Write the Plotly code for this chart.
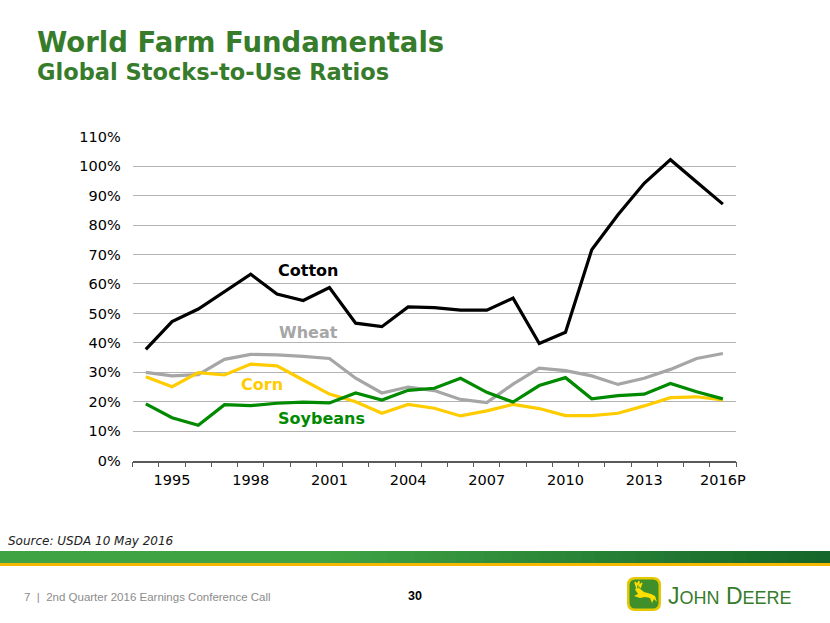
#!/usr/bin/env python3
"""World Farm Fundamentals - global stocks-to-use ratios (USDA, May 2016)"""
import plotly.graph_objects as go

# Marketing years, 1994 .. 2016P (labels every third year)
years = [str(y) for y in range(1994, 2016)] + ["2016P"]
tick_labels = ["1995", "1998", "2001", "2004", "2007", "2010", "2013", "2016P"]

# Stocks-to-use ratios (fraction)
cotton = [0.378, 0.472, 0.515, 0.573, 0.633, 0.566, 0.544, 0.588, 0.467, 0.455,
          0.522, 0.520, 0.511, 0.511, 0.552, 0.398, 0.436, 0.716, 0.835, 0.942,
          1.022, 0.946, 0.871]
wheat = [0.300, 0.288, 0.292, 0.344, 0.361, 0.359, 0.354, 0.347, 0.280, 0.230,
         0.250, 0.238, 0.208, 0.197, 0.260, 0.314, 0.306, 0.288, 0.259, 0.280,
         0.310, 0.347, 0.364]
corn = [0.285, 0.251, 0.299, 0.291, 0.328, 0.322, 0.274, 0.226, 0.200, 0.161,
        0.191, 0.178, 0.152, 0.169, 0.191, 0.177, 0.153, 0.153, 0.161, 0.186,
        0.214, 0.217, 0.206]
soybeans = [0.193, 0.146, 0.120, 0.190, 0.187, 0.195, 0.199, 0.196, 0.230, 0.206,
            0.239, 0.246, 0.280, 0.232, 0.199, 0.255, 0.282, 0.210, 0.221, 0.226,
            0.262, 0.234, 0.210]

GREEN_TITLE = "#367C2B"
DEERE_YELLOW = "#FFDE00"
FONT = "DejaVu Sans"
W, H = 830, 623

series = [
    ("Cotton", cotton, "#000000"),
    ("Wheat", wheat, "#A6A6A6"),
    ("Corn", corn, "#FFCC00"),
    ("Soybeans", soybeans, "#008A00"),
]
label_pos = {"Cotton": (308, 270), "Wheat": (308, 332),
             "Corn": (262, 384), "Soybeans": (321, 418)}


def px_note(x, y, text, size, color, family=FONT, xanchor="left"):
    """Annotation placed by pixel position (x, y from top-left)."""
    fig.add_annotation(x=x / W, y=1 - y / H, xref="paper", yref="paper",
                       xanchor=xanchor, yanchor="middle", text=text,
                       showarrow=False, font=dict(family=family, size=size, color=color))


def px_path(points, close=True):
    """SVG path in paper coords from pixel points; ('Q', cx, cy, x, y) for curves."""
    parts = []
    for i, p in enumerate(points):
        if p[0] == "Q":
            parts.append(f"Q {p[1]/W},{1-p[2]/H} {p[3]/W},{1-p[4]/H}")
        else:
            parts.append(f"{'M' if i == 0 else 'L'} {p[0]/W},{1-p[1]/H}")
    return " ".join(parts) + (" Z" if close else "")


def shield(x0, y0, x1, y1, r):
    return px_path([(x0 + r, y0), (x1 - r, y0), ("Q", x1, y0, x1, y0 + r),
                    (x1, y1 - r), ("Q", x1, y1, x1 - r, y1), (x0 + r, y1),
                    ("Q", x0, y1, x0, y1 - r), (x0, y0 + r), ("Q", x0, y0, x0 + r, y0)])


fig = go.Figure()
idx = list(range(len(years)))
for name, vals, color in series:
    fig.add_trace(go.Scatter(x=idx, y=vals, mode="lines", name=name,
                             line=dict(color=color, width=3.2),
                             hoverinfo="skip"))
    lx, ly = label_pos[name]
    px_note(lx, ly, f"<b>{name}</b>", 16, color, xanchor="center")

# Titles
px_note(35, 42, "<b>World Farm Fundamentals</b>", 27.5, GREEN_TITLE)
px_note(35, 72, "<b>Global Stocks-to-Use Ratios</b>", 22.5, GREEN_TITLE)

# Footer text
px_note(6, 541, "<i>Source: USDA 10 May 2016</i>", 12, "#222222")
px_note(22, 597, "7  |  2nd Quarter 2016 Earnings Conference Call", 11.5,
        "#8C8C8C", family="Liberation Sans")
px_note(415, 596, "<b>30</b>", 12.5, "#000000", family="Liberation Sans", xanchor="center")
px_note(666, 596, "J<span style='font-size:18px'>OHN</span> D<span style='font-size:18px'>EERE</span>",
        23, "#367C2B", family="Liberation Sans")

# Green band with gradient, then yellow strip
shapes = []
n_steps = 60
c0, c1 = (0x3F, 0xA3, 0x44), (0x15, 0x66, 0x2A)
for k in range(n_steps):
    t = k / (n_steps - 1)
    t = max(0.0, (t - 0.4) / 0.6)
    c = tuple(int(a + (b - a) * t) for a, b in zip(c0, c1))
    shapes.append(dict(type="rect", xref="paper", yref="paper",
                       x0=k / n_steps, x1=min(1.0, (k + 1) / n_steps + 0.002),
                       y0=1 - 563 / H, y1=1 - 551 / H,
                       fillcolor=f"rgb{c}", line=dict(width=0), layer="below"))
shapes.append(dict(type="rect", xref="paper", yref="paper", x0=0, x1=1,
                   y0=1 - 566 / H, y1=1 - 563 / H, fillcolor="#F5B800",
                   line=dict(width=0), layer="below"))

# John Deere logo: rounded shield with leaping deer
shapes.append(dict(type="path", xref="paper", yref="paper",
                   path=shield(627, 577, 661, 611, 8),
                   fillcolor="#E6C800", line=dict(width=0)))
shapes.append(dict(type="path", xref="paper", yref="paper",
                   path=shield(629.5, 579.5, 658.5, 608.5, 6),
                   fillcolor="#3F8F2A", line=dict(width=0)))
deer_body = [(635, 589), (639, 588), (644, 592), (651, 594), (655, 596),
             (657, 602), (654, 599), (652, 603), (650, 598), (645, 597),
             (640, 598), (634, 596), (638, 594), (636, 591)]
shapes.append(dict(type="path", xref="paper", yref="paper",
                   path=px_path(deer_body), fillcolor=DEERE_YELLOW,
                   line=dict(width=0)))
antlers = [(637, 589), (635, 582), (637, 585), (639, 581), (639, 586),
           (642, 583), (640, 588)]
shapes.append(dict(type="path", xref="paper", yref="paper",
                   path=px_path(antlers, close=False),
                   line=dict(color=DEERE_YELLOW, width=1.4)))

fig.update_layout(
    width=W, height=H,
    margin=dict(l=0, r=0, t=0, b=0, pad=0, autoexpand=False),
    paper_bgcolor="white", plot_bgcolor="white",
    showlegend=False,
    shapes=shapes,
    font=dict(family=FONT, size=14, color="#000000"),
    xaxis=dict(domain=[132.7 / W, 736 / W], range=[-0.5, 22.5],
               tickmode="array", tickvals=[1, 4, 7, 10, 13, 16, 19, 22],
               ticktext=tick_labels, ticks="", showgrid=False, zeroline=False,
               showline=True, linecolor="#595959", linewidth=1.5,
               minor=dict(tickmode="linear", tick0=-0.5, dtick=1, ticks="outside",
                          ticklen=5, tickcolor="#595959", tickwidth=1.3),
               tickfont=dict(size=14.5, family=FONT, color="#000000"),
               ticklabelstandoff=5,
               automargin=False, fixedrange=True),
    yaxis=dict(domain=[1 - 460.7 / H, 1 - 136.7 / H], range=[0, 1.1],
               tickmode="linear", tick0=0, dtick=0.1, tickformat=".0%",
               showgrid=True, gridcolor="#B3B3B3", gridwidth=1.3,
               zeroline=False, showline=False, ticks="",
               tickfont=dict(size=14.5, family=FONT, color="#000000"),
               ticklabelstandoff=11,
               automargin=False, fixedrange=True),
)

fig.write_html("out.html", config={"displayModeBar": False},
               post_script="document.body.style.margin='0';"
                           "document.body.style.overflow='hidden';")
